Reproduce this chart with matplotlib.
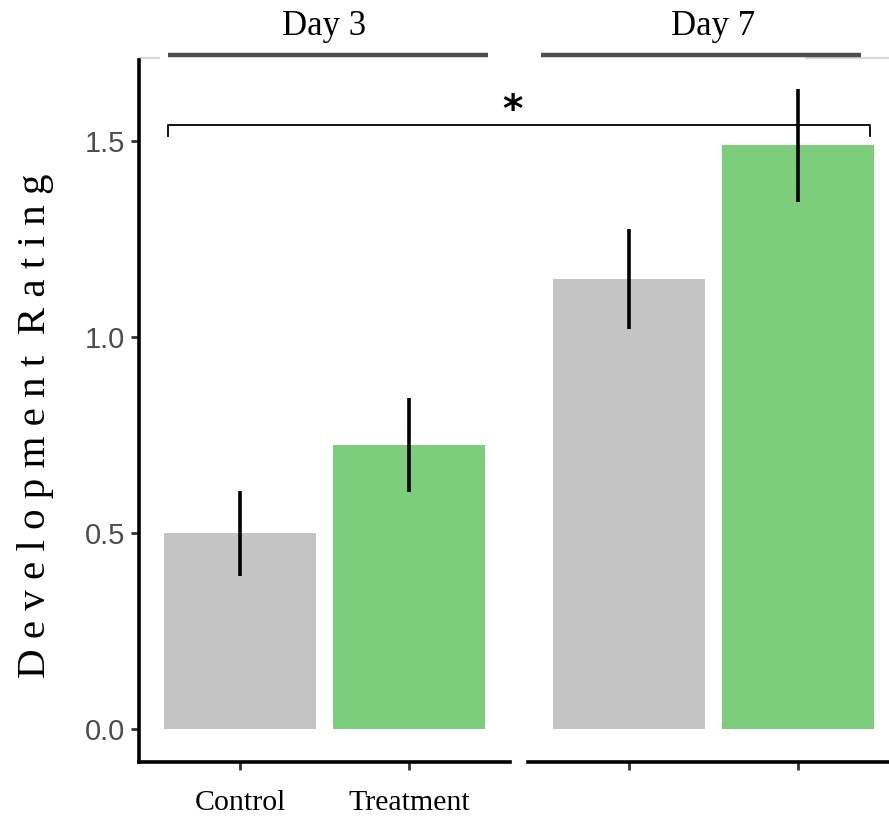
import matplotlib
matplotlib.use("Agg")
import matplotlib.pyplot as plt
from matplotlib.lines import Line2D
import numpy as np

# ---- data ----
days = ["Day 3", "Day 7"]
groups = ["Control", "Treatment"]
means = {"Day 3": [0.50, 0.725], "Day 7": [1.148, 1.49]}
err_low = {"Day 3": [0.39, 0.605], "Day 7": [1.020, 1.344]}
err_high = {"Day 3": [0.607, 0.844], "Day 7": [1.276, 1.633]}
colors = ["#C4C4C4", "#7CCD7C"]
yticks = [0.0, 0.5, 1.0, 1.5]
ylabel = "Development Rating"
sig_label = "*"

W, H = 889, 817
fig = plt.figure(figsize=(W / 100, H / 100), dpi=100)

ax_left_px = [139, 528]
ax_w_px = 371
ax_bottom_px = 762
ax_top_px = 60
ylim = (-0.084, 1.707)

serif = ["Liberation Serif", "DejaVu Serif"]
sans = ["Liberation Sans", "DejaVu Sans"]

axes = []
for i, day in enumerate(days):
    ax = fig.add_axes([ax_left_px[i] / W, 1 - ax_bottom_px / H,
                       ax_w_px / W, (ax_bottom_px - ax_top_px) / H])
    xs = np.arange(1, len(groups) + 1)
    ax.bar(xs, means[day], width=0.9, color=colors, zorder=1)
    m = np.array(means[day])
    lo = m - np.array(err_low[day])
    hi = np.array(err_high[day]) - m
    ax.errorbar(xs, m, yerr=[lo, hi], fmt="none", ecolor="black",
                elinewidth=2.6, capsize=0, zorder=2)
    ax.set_xlim(0.4, 2.6)
    ax.set_ylim(*ylim)
    ax.set_xticks(xs)
    for s in ["top", "right"]:
        ax.spines[s].set_visible(False)
    ax.spines["bottom"].set_linewidth(2.6)
    ax.spines["left"].set_linewidth(2.6)
    ax.tick_params(axis="x", length=6, width=2, color="#333333", pad=14)
    if i == 0:
        ax.set_xticklabels(groups, fontsize=21.5, family=serif, color="black")
        ax.set_yticks(yticks)
        ax.set_yticklabels([f"{v:.1f}" for v in yticks], fontsize=21,
                           family=sans, color="#4D4D4D")
        ax.tick_params(axis="y", length=6, width=2, color="#333333", pad=4)
        spaced = "  ".join(" ".join(w) for w in ylabel.split(" "))
        ax.set_ylabel(spaced, fontsize=29.5, family=serif, labelpad=22,
                      y=0.479)
    else:
        ax.set_xticklabels(["", ""])
        ax.spines["left"].set_visible(False)
        ax.set_yticks([])
    # strip
    light_x = [(0.394, 0.524), (2.04, 2.7)][i]
    ax.plot(light_x, [1.713, 1.713], color="#D9D9D9", lw=1.6, clip_on=False,
            solid_capstyle="butt", zorder=0)
    strip_x = [(0.572, 2.47), (0.477, 2.376)][i]
    ax.plot(strip_x, [1.72, 1.72], color="#4D4D4D", lw=3.2, clip_on=False,
            solid_capstyle="butt")
    ax.text(1.5, 1.770, day, ha="center", va="baseline", fontsize=25,
            family=serif, clip_on=False)
    axes.append(ax)

# significance bracket spanning both panels
fig.canvas.draw()
inv = fig.transFigure.inverted()
y_br, y_end = 1.541, 1.513
p_left_top = inv.transform(axes[0].transData.transform((0.572, y_br)))
p_left_bot = inv.transform(axes[0].transData.transform((0.572, y_end)))
p_right_top = inv.transform(axes[1].transData.transform((2.43, y_br)))
p_right_bot = inv.transform(axes[1].transData.transform((2.43, y_end)))
xs_b = [p_left_bot[0], p_left_top[0], p_right_top[0], p_right_bot[0]]
ys_b = [p_left_bot[1], p_left_top[1], p_right_top[1], p_right_bot[1]]
fig.add_artist(Line2D(xs_b, ys_b, color="black", lw=1.3,
                      transform=fig.transFigure))
fig.text((p_left_top[0] + p_right_top[0]) / 2 - 0.008, p_left_top[1] - 0.006,
         sig_label, ha="center", va="bottom", fontsize=28, fontweight="bold",
         family=["DejaVu Sans"], transform=fig.transFigure)

fig.savefig("out.png", dpi=100)
